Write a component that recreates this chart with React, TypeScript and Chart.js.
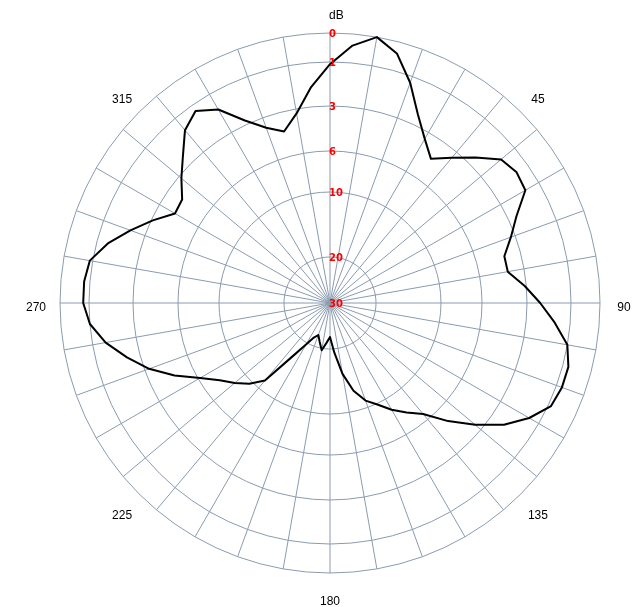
import { useEffect, useRef } from "react";
import { Chart, registerables } from "chart.js";

Chart.register(...registerables);

// Azimuth categories (degrees, clockwise from top), every 5°
const ANGLES: number[] = Array.from({ length: 72 }, (_, i) => i * 5);

// Relative level in dB (0 = maximum), one per azimuth
const LEVEL_DB: number[] = [
  1.1, 0.4, 0.0, 0.4, 1.3, 2.5, 3.5, 4.4, 3.5, 2.6, 1.8, 1.6,
  1.7, 2.6, 3.3, 4.1, 4.1, 3.1, 2.4, 1.7, 1.0, 0.8, 0.8, 0.9,
  1.5, 2.3, 3.5, 5.0, 6.7, 7.8, 8.8, 9.9, 11.1, 13.1, 16.0, 19.4,
  22.6, 21.3, 19.7, 21.3, 22.6, 21.7, 19.7, 17.1, 11.5, 9.7, 8.7, 7.7,
  6.2, 4.7, 3.3, 2.4, 1.6, 1.0, 0.8, 0.8, 0.9, 1.5, 2.3, 3.1,
  4.2, 4.1, 3.2, 2.5, 1.7, 1.3, 1.8, 2.8, 3.7, 4.3, 3.3, 2.1,
];

// Radial tick levels (dB) and their relative radius on the chart's scale
const TICK_DB: number[] = [30, 20, 10, 6, 3, 1, 0];
const TICK_FRACTION: number[] = [0, 0.1704, 0.4111, 0.563, 0.7296, 0.8926, 1];

// Azimuth labels shown around the plot
const ANGLE_LABELS: number[] = [45, 90, 135, 180, 225, 270, 315];
const AXIS_TITLE = "dB";

const GRID = "#8a9bb0";

function dbToFraction(db: number): number {
  for (let i = 0; i < TICK_DB.length - 1; i++) {
    const a = TICK_DB[i];
    const b = TICK_DB[i + 1];
    if (db <= a && db >= b) {
      const t = (a - db) / (a - b);
      return TICK_FRACTION[i] + t * (TICK_FRACTION[i + 1] - TICK_FRACTION[i]);
    }
  }
  return db > TICK_DB[0] ? 0 : 1;
}

const labelsPlugin = {
  id: "polarLabels",
  afterDraw(chart: any) {
    const s = chart.scales.r;
    const ctx = chart.ctx as CanvasRenderingContext2D;
    const cx = s.xCenter;
    const cy = s.yCenter;
    const R = s.drawingArea;
    ctx.save();
    ctx.font = 'bold 10px "DejaVu Sans"';
    ctx.fillStyle = "#ff0000";
    ctx.textAlign = "left";
    ctx.textBaseline = "middle";
    s.ticks.forEach((t: any, i: number) => {
      const d = s.getDistanceFromCenterForValue(t.value);
      ctx.fillText(String(TICK_DB[i]), cx - 1, cy - d + 1);
    });
    ctx.font = '12px "Liberation Sans"';
    ctx.fillStyle = "#000000";
    ctx.textAlign = "center";
    ANGLE_LABELS.forEach((a) => {
      const rad = (a * Math.PI) / 180;
      const d = R + 24;
      ctx.fillText(String(a), cx + d * Math.sin(rad), cy - d * Math.cos(rad) + 5);
    });
    ctx.textAlign = "left";
    ctx.fillText(AXIS_TITLE, cx - 1, cy - R - 17);
    ctx.restore();
  },
};

export default function App() {
  const ref = useRef<HTMLCanvasElement>(null);
  useEffect(() => {
    if (!ref.current) return;
    const chart = new Chart(ref.current, {
      type: "radar",
      data: {
        labels: ANGLES.map(String),
        datasets: [
          {
            data: LEVEL_DB.map((db) => dbToFraction(db)),
            borderColor: "#000000",
            borderWidth: 2,
            borderJoinStyle: "round",
            pointRadius: 0,
            fill: false,
            tension: 0,
          } as any,
        ],
      },
      options: {
        animation: false,
        responsive: false,
        maintainAspectRatio: false,
        layout: { padding: { left: 60, right: 44, top: 33, bottom: 34 } },
        plugins: {
          legend: { display: false },
          tooltip: { enabled: false },
        },
        scales: {
          r: {
            type: "radialLinear",
            min: 0,
            max: 1,
            startAngle: 0,
            afterBuildTicks: (s: any) => {
              s.ticks = TICK_FRACTION.map((v) => ({ value: v }));
            },
            ticks: { display: false },
            pointLabels: { display: false },
            grid: { color: GRID, lineWidth: 1, circular: false },
            angleLines: {
              display: true,
              color: GRID,
              lineWidth: (c: any) => (c.index % 2 === 0 ? 1 : 0),
            },
          } as any,
        },
      },
      plugins: [labelsPlugin],
    });
    return () => chart.destroy();
  }, []);
  return (
    <div style={{ position: "fixed", left: 0, top: 0, width: 644, height: 607, background: "#ffffff" }}>
      <canvas ref={ref} width={644} height={607} style={{ display: "block" }} />
    </div>
  );
}
